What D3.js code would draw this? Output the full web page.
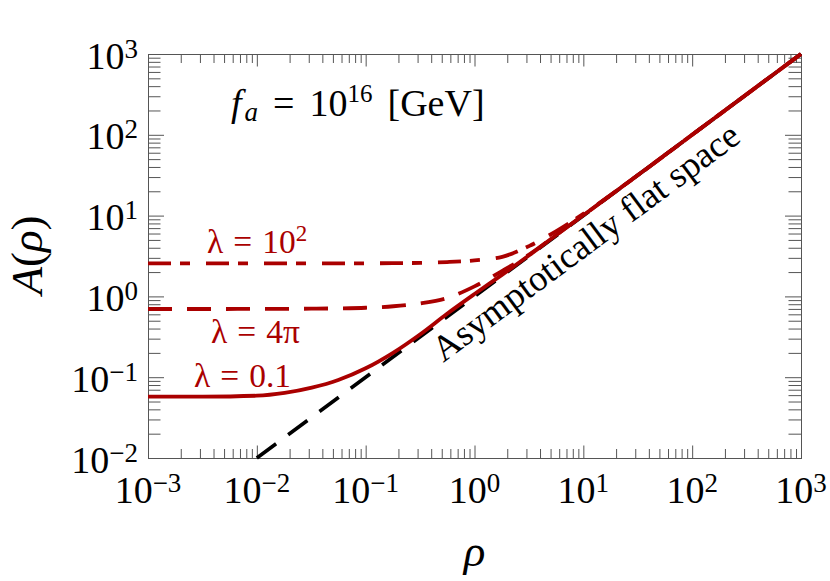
<!DOCTYPE html>
<html>
<head>
<meta charset="utf-8">
<script src="https://cdnjs.cloudflare.com/ajax/libs/d3/7.8.5/d3.min.js"></script>
<style>
body { margin: 0; background: #fff; }
text { font-family: "Liberation Serif", "DejaVu Serif", serif; }
</style>
</head>
<body>
<svg class="chart" width="830" height="581"></svg>
<script>
// sample radii
const rho = [0.001, 0.0032, 0.01, 0.018, 0.032, 0.056, 0.1, 0.18, 0.32, 0.56, 1, 1.8, 3.2, 5.6, 10, 32, 100, 1000]
// lambda = 0.1 (solid)
const aSmall = [0.0574, 0.0575, 0.0590, 0.0638, 0.0741, 0.0923, 0.129, 0.202, 0.343, 0.610, 1.07, 1.86, 3.25, 5.71, 10.1, 32, 100, 1000]
// lambda = 4 pi (dashed)
const aMid = [0.698, 0.698, 0.700, 0.701, 0.705, 0.711, 0.724, 0.755, 0.822, 0.955, 1.33, 2.07, 3.31, 5.71, 10.1, 32, 100, 1000]
// lambda = 10^2 (dot dashed)
const aLarge = [2.57, 2.57, 2.57, 2.57, 2.57, 2.57, 2.57, 2.58, 2.60, 2.66, 2.79, 3.09, 4.22, 6.38, 10.5, 31.8, 100, 1000]
// asymptotically flat space, A = rho
const flatRho = [0.01, 1000]
const xExp = [-3, -2, -1, 0, 1, 2, 3]
const yExp = [-2, -1, 0, 1, 2, 3]

const svg = d3.select('.chart')
const width = +svg.attr('width')
const height = +svg.attr('height')
const margin = { top: 54, right: 29, bottom: 123, left: 148 }
const innerW = width - margin.left - margin.right
const innerH = height - margin.top - margin.bottom
const red = '#aa0000'
const axisCol = '#555'

const x = d3.scaleLog().domain([1e-3, 1e3]).range([0, innerW])
const y = d3.scaleLog().domain([1e-2, 1e3]).range([innerH, 0])

const g = svg.append('g').attr('transform', `translate(${margin.left},${margin.top})`)

// minor tick values
const minor = (lo, hi) => {
    const out = []
    for (let e = lo; e < hi; e++) {
        for (let m = 2; m <= 9; m++) out.push(m * Math.pow(10, e))
    }
    return out
}
const majX = xExp.map(e => Math.pow(10, e))
const majY = yExp.map(e => Math.pow(10, e))

const tickGroup = (axis, tr) => {
    const a = g.append('g').attr('transform', tr).call(axis)
    a.select('.domain').remove()
    a.selectAll('text').remove()
    a.selectAll('line').attr('stroke', axisCol)
}
tickGroup(d3.axisBottom(x).tickValues(minor(-3, 3)).tickSize(-9), `translate(0,${innerH})`)
tickGroup(d3.axisBottom(x).tickValues(majX).tickSize(-12.5), `translate(0,${innerH})`)
tickGroup(d3.axisTop(x).tickValues(minor(-3, 3)).tickSize(-9), 'translate(0,0)')
tickGroup(d3.axisTop(x).tickValues(majX).tickSize(-12.5), 'translate(0,0)')
tickGroup(d3.axisLeft(y).tickValues(minor(-2, 3)).tickSize(-12.5), 'translate(0,0)')
tickGroup(d3.axisLeft(y).tickValues(majY).tickSize(-16), 'translate(0,0)')
tickGroup(d3.axisRight(y).tickValues(minor(-2, 3)).tickSize(-12.5), `translate(${innerW},0)`)
tickGroup(d3.axisRight(y).tickValues(majY).tickSize(-16), `translate(${innerW},0)`)

g.append('rect')
    .attr('x', 0.5).attr('y', 0.5)
    .attr('width', innerW).attr('height', innerH)
    .attr('fill', 'none').attr('stroke', axisCol)

// tick labels 10^n
const expLabel = (sel, e) => {
    sel.append('tspan').text('10')
    sel.append('tspan').attr('font-size', 27).attr('dy', -11)
        .text(String(e).replace('-', '\u2212'))
}
g.selectAll('.xlab').data(xExp).enter().append('text')
    .attr('class', 'xlab')
    .attr('x', d => x(Math.pow(10, d)))
    .attr('y', innerH + 45)
    .attr('text-anchor', 'middle')
    .attr('font-size', 38)
    .each(function (d) { expLabel(d3.select(this), d) })
g.selectAll('.ylab').data(yExp).enter().append('text')
    .attr('class', 'ylab')
    .attr('x', -10)
    .attr('y', d => y(Math.pow(10, d)) + 14.5)
    .attr('text-anchor', 'end')
    .attr('font-size', 38)
    .each(function (d) { expLabel(d3.select(this), d) })

// curves
const line = d3.line()
    .x(d => x(d[0]))
    .y(d => y(d[1]))
    .curve(d3.curveMonotoneX)

g.append('path')
    .attr('d', line(flatRho.map(r => [r, r])))
    .attr('fill', 'none').attr('stroke', '#000')
    .attr('stroke-width', 3.6).attr('stroke-dasharray', '24,15')

const series = [
    { a: aSmall, dash: null },
    { a: aMid, dash: '24,15' },
    { a: aLarge, dash: '23,9,10,16' }
]
series.forEach(s => {
    g.append('path')
        .attr('d', line(rho.map((r, i) => [r, s.a[i]])))
        .attr('fill', 'none').attr('stroke', red)
        .attr('stroke-width', 3.8)
        .attr('stroke-dasharray', s.dash)
})

// annotations
const angle = Math.atan2(y(1000) - y(0.01), x(1000) - x(0.01)) * 180 / Math.PI
g.append('text')
    .attr('transform', `translate(${x(0.515)},${y(0.15)}) rotate(${angle})`)
    .attr('font-size', 36.5)
    .text('Asymptotically flat space')

const fa = svg.append('text').attr('x', 231).attr('y', 116).attr('font-size', 38)
fa.append('tspan').attr('font-style', 'italic').text('f')
fa.append('tspan').attr('font-style', 'italic').attr('font-size', 27).attr('dy', 5).attr('dx', 3).text('a')
fa.append('tspan').attr('dy', -5).attr('dx', 15).text('=')
fa.append('tspan').attr('dx', 15).text('10')
fa.append('tspan').attr('font-size', 25).attr('dy', -14).text('16')
fa.append('tspan').attr('dy', 14).attr('dx', 15).text('[GeV]')

const lamLabel = (xp, yp, parts) => {
    const t = svg.append('text').attr('x', xp).attr('y', yp)
        .attr('font-size', 33.5).attr('fill', red)
    t.append('tspan').text('\u03bb')
    t.append('tspan').attr('dx', 10).text('=')
    t.append('tspan').attr('dx', 10).text(parts[0])
    if (parts[1]) t.append('tspan').attr('font-size', 23).attr('dy', -12).text(parts[1])
}
lamLabel(207, 253, ['10', '2'])
lamLabel(211, 343, ['4\u03c0'])
lamLabel(194, 387, ['0.1'])

// axis titles
const yt = svg.append('text')
    .attr('transform', 'translate(42,255) rotate(-90)')
    .attr('text-anchor', 'middle').attr('font-size', 45)
yt.append('tspan').attr('font-style', 'italic').text('A')
yt.append('tspan').text('(')
yt.append('tspan').attr('font-style', 'italic').text('\u03c1')
yt.append('tspan').text(')')

svg.append('text')
    .attr('x', margin.left + innerW / 2).attr('y', 566)
    .attr('text-anchor', 'middle').attr('font-size', 45)
    .attr('font-style', 'italic')
    .text('\u03c1')
</script>
</body>
</html>
